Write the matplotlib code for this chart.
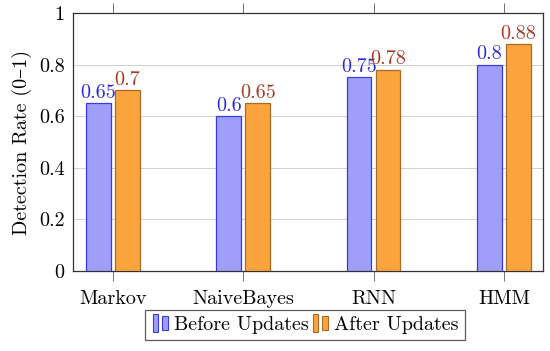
import matplotlib
matplotlib.use("Agg")
import matplotlib.pyplot as plt
import numpy as np
from matplotlib.patches import Rectangle
from matplotlib.legend_handler import HandlerBase

plt.rcParams['font.family'] = ['cmr10', 'DejaVu Serif']
plt.rcParams['axes.formatter.use_mathtext'] = True

categories = ["Markov", "NaiveBayes", "RNN", "HMM"]
before = [0.65, 0.6, 0.75, 0.8]
after = [0.7, 0.65, 0.78, 0.88]
yticks = [0, 0.2, 0.4, 0.6, 0.8, 1.0]
ytick_labels = ["0", "0.2", "0.4", "0.6", "0.8", "1"]
series_names = ["Before Updates", "After Updates"]

blue_fill, blue_edge, blue_text = "#9f9ffa", "#3a3ae0", "#2b2bdd"
orange_fill, orange_edge, orange_text = "#fba43e", "#a86a2a", "#a33a25"

FS = 14.5

fig = plt.figure(figsize=(5.5, 3.51), dpi=100)
ax = fig.add_axes([0.1327, 0.228, 0.8545, 0.735])

x = np.arange(len(categories))
w = 0.19
off = 0.111
ax.bar(x - off, before, w, color=blue_fill, edgecolor=blue_edge, linewidth=0.9, zorder=3)
ax.bar(x + off, after, w, color=orange_fill, edgecolor=orange_edge, linewidth=0.9, zorder=3)

for xi, v in zip(x - off, before):
    ax.annotate(f"{v:g}", (xi, v), xytext=(0, 1.0), textcoords="offset points",
                ha="center", va="bottom", color=blue_text, fontsize=FS, zorder=4)
for xi, v in zip(x + off, after):
    ax.annotate(f"{v:g}", (xi, v), xytext=(0, 1.0), textcoords="offset points",
                ha="center", va="bottom", color=orange_text, fontsize=FS, zorder=4)

ax.set_xlim(-0.307, 3.3)
ax.set_ylim(0, 1)
ax.set_yticks(yticks)
ax.set_yticklabels(ytick_labels, fontsize=FS)
ax.set_xticks(x)
ax.set_xticklabels(categories, fontsize=FS)
ax.tick_params(axis='x', which='both', top=True, bottom=True, direction='out', length=7,
               width=0.7, color='#707070', pad=7)
ax.tick_params(axis='y', direction='in', length=0, pad=6)
ax.yaxis.grid(True, color='#d0d0d0', linewidth=0.7, zorder=0)
ax.set_axisbelow(True)
for s in ax.spines.values():
    s.set_linewidth(0.9)
    s.set_color('#333333')
ax.set_ylabel("Detection Rate (0\u20131)", fontsize=FS, labelpad=5)


class TwoBarHandler(HandlerBase):
    def create_artists(self, legend, orig_handle, xdescent, ydescent, width, height, fontsize, trans):
        fc = orig_handle.get_facecolor()
        ec = orig_handle.get_edgecolor()
        bw = width * 0.28
        h = height * 1.25
        y0 = -ydescent + (height - h) / 2
        r1 = Rectangle((-xdescent + width * 0.08, y0), bw, h, facecolor=fc, edgecolor=ec, linewidth=0.8, transform=trans)
        r2 = Rectangle((-xdescent + width * 0.55, y0 + h * 0.1), bw, h * 0.8, facecolor=fc, edgecolor=ec, linewidth=0.8, transform=trans)
        return [r1, r2]


h1 = Rectangle((0, 0), 1, 1, facecolor=blue_fill, edgecolor=blue_edge)
h2 = Rectangle((0, 0), 1, 1, facecolor=orange_fill, edgecolor=orange_edge)
leg = fig.legend([h1, h2], series_names, loc='center', bbox_to_anchor=(0.5545, 0.074), ncol=2,
                 fontsize=FS, frameon=True, fancybox=False, edgecolor='#333333',
                 handler_map={Rectangle: TwoBarHandler()}, handlelength=1.0, handletextpad=0.15,
                 columnspacing=0.1, borderpad=0.3, borderaxespad=0)
leg.get_frame().set_linewidth(0.9)

fig.savefig("out.png", dpi=100)
